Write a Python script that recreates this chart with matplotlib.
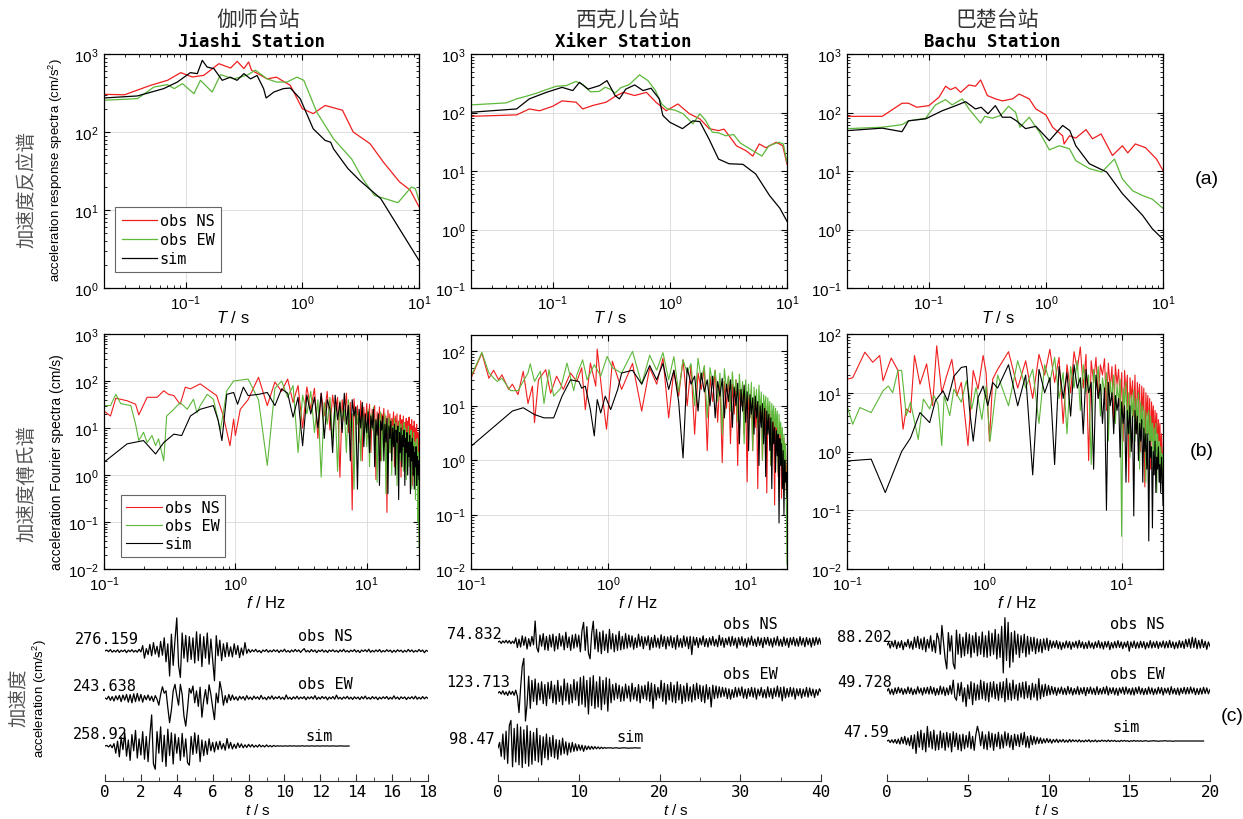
import numpy as np
import matplotlib
matplotlib.use("Agg")
import matplotlib.pyplot as plt
from matplotlib.ticker import MultipleLocator
import matplotlib.transforms as mtransforms

plt.rcParams['font.family'] = ['Liberation Sans', 'DejaVu Sans']
plt.rcParams['mathtext.fontset'] = 'custom'
plt.rcParams['mathtext.rm'] = 'Liberation Sans'
plt.rcParams['mathtext.it'] = 'Liberation Sans:italic'

# ---------------- (a) acceleration response spectra ----------------
JS_T_NS = [0.02,0.03,0.05,0.07,0.091,0.114,0.143,0.193,0.243,0.277,0.316,0.347,0.367,0.5,0.6,0.79,1.0,1.24,1.57,2.21,2.73,3.8,4.96,6.8,8.4,10]
JS_SA_NS = [304,300,396,460,577,507,532,751,661,805,650,790,620,480,505,396,199,172,219,190,100,71,41,23,18,11]
JS_T_EW = [0.02,0.0387,0.0536,0.0697,0.08,0.094,0.118,0.134,0.169,0.199,0.259,0.337,0.397,0.5,0.6,0.74,0.9,1.03,1.33,1.85,2.65,3.3,4.15,5.7,6.6,8.6,9.3,10]
JS_SA_EW = [255,268,377,405,360,417,310,460,325,543,480,535,620,480,437,437,505,460,180,82,45,25,15.4,13.3,12.4,19.7,18.8,13.3]
JS_T_SIM = [0.02,0.0387,0.065,0.085,0.11,0.126,0.139,0.153,0.175,0.206,0.242,0.276,0.316,0.36,0.41,0.466,0.49,0.57,0.69,0.79,0.96,1.24,1.57,1.75,1.85,2.46,3.1,4.7,10]
JS_SA_SIM = [273,290,360,437,577,560,830,680,648,460,505,460,560,480,530,360,273,325,360,366,267,110,78,74,61,34,24,14,2.26]

XK_T_NS = [0.02,0.049,0.063,0.077,0.1,0.12,0.158,0.18,0.22,0.285,0.35,0.4,0.5,0.63,0.76,0.93,1.17,1.47,1.8,2.16,2.6,2.9,3.2,3.7,4.5,5.1,5.8,6.6,8.1,9.2,10]
XK_SA_NS = [86,91,115,107,128,158,150,115,132,150,195,221,195,221,150,107,140,95,78,53,49,52,40,27,22,18,29,25,31,27,13]
XK_T_EW = [0.02,0.04,0.049,0.059,0.072,0.088,0.107,0.13,0.158,0.18,0.21,0.25,0.28,0.31,0.34,0.38,0.45,0.55,0.65,0.75,0.85,0.95,1.1,1.3,1.57,1.8,2.0,2.3,2.6,3.0,3.5,4.0,4.8,6.1,7.0,8.5,9.3,10]
XK_SA_EW = [135,146,171,189,213,246,281,288,340,300,225,230,270,250,215,265,300,440,350,240,140,115,110,95,64,95,75,46,45,40,42,30,24,18,27,31,29,14]
XK_T_SIM = [0.02,0.049,0.063,0.088,0.12,0.148,0.169,0.2,0.25,0.29,0.34,0.37,0.42,0.5,0.59,0.69,0.81,0.87,1.0,1.28,1.57,1.8,2.16,2.6,3.2,4.2,5.4,7.1,8.7,10]
XK_SA_SIM = [101,115,171,221,269,237,328,251,288,351,195,171,251,296,237,260,171,89,68,53,72,70,35,16,13.3,13,8.9,3.8,2.3,1.38]

BC_T_NS = [0.02,0.04,0.059,0.067,0.079,0.1,0.122,0.139,0.153,0.169,0.187,0.22,0.25,0.277,0.316,0.37,0.424,0.52,0.59,0.72,0.82,1.0,1.14,1.39,1.43,1.59,1.8,2.2,2.5,2.96,3.7,4.5,5.0,5.8,7.1,8.8,10]
BC_SA_NS = [86,86,144,144,123,131,182,281,246,269,221,296,281,360,195,171,158,171,207,171,115,91,56,40,29,40,36.5,51,35.5,43,18.4,27,20.4,29,25,16,10.2]
BC_T_EW = [0.02,0.04,0.059,0.067,0.094,0.114,0.139,0.158,0.193,0.22,0.277,0.3,0.35,0.41,0.48,0.55,0.6,0.72,0.88,1.07,1.3,1.59,1.8,2.35,3.0,3.85,4.5,5.5,6.7,8.1,10]
BC_SA_EW = [53,56,62,72,80,135,166,135,171,115,66,86,80,89,128,101,56,83,46,23,27,24,15,11,9.6,16,7.3,4.6,3.8,3.3,2.3]
BC_T_SIM = [0.02,0.04,0.059,0.067,0.094,0.13,0.17,0.206,0.25,0.28,0.32,0.37,0.424,0.5,0.56,0.67,0.82,1.07,1.39,1.6,1.8,2.35,3.3,4.5,6.7,8.1,10]
BC_SA_SIM = [49,54,47,72,78,107,131,153,115,123,95,131,83,83,72,53,58,33,60,49,27,13.3,9.6,4.1,1.74,1.03,0.68]

# ---------------- (b) Fourier spectra ----------------
# low-frequency part: explicit (f, A); high-frequency part: amplitudes on the FFT grid from 1.25 Hz every 0.25 Hz
F_HI_START = 1.25
F_HI_STEP = 0.25

JS_F_NS_LO = [0.1,0.112,0.123,0.15,0.174,0.184,0.213,0.254,0.285,0.31,0.34,0.38,0.416,0.455,0.54,0.64,0.72,0.81,0.91,0.97,1.0,1.09]
JS_A_NS_LO = [23,18,43,38,32,19,45,45,62,52,49,32,74,68,87,62,49,18,4.2,15.5,6.9,25]
JS_A_NS_HI = [40,120,30,95,60,110,35,80,10,75,
              25,70,6,55,18,60,9,50,20,45,
              0.9,40,14,55,8,35,0.18,42,12,30,
              5,38,2,28,10,33,6,32,3,25,
              12,30,0.8,22,8,28,2,20,14,26,
              4,18,0.16,24,9,20,3,16,11,22,
              1.5,18,7,20,3,14,10,19,0.9,15,
              6,18,2.5,13,8,16,1.2,14,5,17,
              2,12,7,15,0.6,11,4,14,1.5,10,
              6,12,0.9,8,3,5]
JS_F_EW_LO = [0.1,0.112,0.123,0.134,0.16,0.174,0.184,0.2,0.213,0.232,0.247,0.26,0.285,0.3,0.34,0.38,0.43,0.48,0.51,0.54,0.61,0.68,0.77,0.86,0.97]
JS_A_EW_LO = [30,30,52,33,30,12,5.4,8.1,4.9,6.9,4.2,5.9,2.0,18,25,35,25,41,21,30,52,41,8.9,62,100]
JS_A_EW_HI = [110,40,1.6,70,100,45,80,3,50,20,
              60,8,40,0.9,35,12,45,6,30,1.2,
              38,15,25,3,40,10,20,0.5,28,12,
              22,2,30,8,18,4,25,1.5,20,9,
              28,3,15,0.7,18,10,22,2,14,6,
              20,0.4,12,8,17,3,15,1,11,7,
              16,2.5,13,0.6,10,6,14,2,12,4,
              9,1.2,13,5,10,0.8,8,3,11,1.5,
              7,4,9,0.5,6,2,8,1,5,0.3,
              4,2,6,0.1,3,0.03]
JS_F_SIM_LO = [0.1,0.15,0.2,0.247,0.285,0.34,0.39,0.455,0.54,0.68,0.74,0.79,0.86,0.97,1.04,1.15]
JS_A_SIM_LO = [1.87,4.6,5.4,2.8,4.9,7.4,6.9,18,25,30,14.5,5.4,52,57,32,74]
JS_A_SIM_HI = [49,52,57,30,68,55,17,45,4.2,50,
               20,45,10,55,6,40,25,3,50,15,
               35,8,55,12,30,2,40,18,28,0.5,
               25,10,35,4,20,8,22,3,18,10,
               25,1.5,15,7,20,0.6,14,9,18,2,
               12,5,16,0.4,11,6,14,2,10,4,
               12,1,9,5,11,0.3,8,3,10,1.5,
               7,4,9,0.6,6,3,8,1,5,2.5,
               7,0.4,5,2,6,1,4,0.5,3,1.5,
               4,0.6,2.5,1,2,0.8]

XK_F_NS_LO = [0.1,0.12,0.135,0.146,0.159,0.168,0.188,0.2,0.22,0.24,0.26,0.28,0.29,0.31,0.35,0.38,0.42,0.47,0.53,0.59,0.64,0.68,0.74,0.81,0.83,0.9,0.97,1.07]
XK_A_NS_LO = [32,93,32,45,30,37,20,25,16,43,11,23,4.9,30,46,17,35,20,40,28,50,8.5,61,23,110,17,3.7,66]
XK_A_NS_HI = [20,60,8,50,25,75,6,45,15,70,
              10,55,3,40,20,50,1.5,35,12,45,
              5,30,0.9,28,9,35,2,25,7,30,
              0.8,20,10,24,3,18,0.4,16,6,20,
              1.5,14,4,12,0.3,11,5,13,1,9,
              3,10,0.25,7,4,8,0.8,6,2,7,
              0.15,5,2.5,4,0.5,3.5,1.2,4,0.2,2,
              0.9,2.5,0.3,1.5,0.5,0.8]
XK_F_EW_LO = [0.1,0.12,0.135,0.155,0.168,0.194,0.22,0.26,0.27,0.29,0.32,0.34,0.37,0.4,0.45,0.5,0.56,0.59,0.65,0.7,0.79,0.88,0.98,1.07]
XK_A_EW_LO = [35,96,40,28,32,19,19,40,59,28,43,11,46,15,21,61,19,37,70,30,57,35,81,50]
XK_A_EW_HI = [40,100,25,85,45,95,30,80,18,70,
              40,60,10,75,30,55,6,50,25,45,
              12,40,3,48,20,35,8,42,15,30,
              5,38,12,28,2,30,10,25,6,27,
              1.5,22,9,20,4,24,7,18,1,16,
              8,15,3,14,6,12,0.8,11,5,10,
              2.5,9,4,8,0.6,7,3,5,1.5,4,
              0.5,3,1,2,0.3,0.012]
XK_F_SIM_LO = [0.1,0.2,0.24,0.29,0.34,0.4,0.46,0.53,0.61,0.64,0.68,0.74,0.79,0.83,0.88,0.95,1.04,1.17]
XK_A_SIM_LO = [1.8,8,9.2,6.9,6.0,6.0,15,30,28,21,23,8.5,2.8,13,7.4,15,8.5,20]
XK_A_SIM_HI = [40,45,25,55,30,60,20,45,12,1.1,
               50,25,35,8,40,18,30,10,35,6,
               28,15,32,6,25,12,30,4,22,10,
               26,2,20,8,24,5,18,1.5,16,7,
               14,3,15,6,12,0.8,10,4,11,2,
               9,0.5,8,3,7,1.5,6,0.3,5,2,
               4,0.6,3.5,1.2,3,0.07,2.5,0.8,2,0.3,
               1.5,0.1,1,0.4,0.6,0.2]

BC_F_NS_LO = [0.1,0.11,0.135,0.154,0.173,0.183,0.21,0.235,0.256,0.27,0.29,0.31,0.34,0.38,0.4,0.42,0.45,0.49,0.53,0.58,0.63,0.68,0.76,0.83,0.9,0.98,1.03,1.09,1.15]
BC_A_NS_LO = [17,18,49,33,43,16,39,24,2.4,5.3,4.6,43,14,31,13,6.0,63,10,19,37,8.9,15,1.26,24,11.5,43,22,1.5,17]
BC_A_NS_HI = [25,50,12,35,8,45,20,55,15,40,
              3,30,10,50,25,60,12,45,0.7,35,
              15,40,8,30,20,38,5,32,12,28,
              3,30,14,25,6,22,1.5,24,10,20,
              0.3,18,8,16,4,20,2,15,7,14,
              1,13,5,12,0.25,10,4,9,2,8,
              0.5,7,3,6,1,5,2,4.5,0.8,3.5,
              1.5,3,0.6,2,1,0.9]
BC_F_EW_LO = [0.1,0.11,0.124,0.15,0.183,0.2,0.215,0.235,0.25,0.27,0.29,0.33,0.36,0.4,0.43,0.46,0.49,0.51,0.56,0.6,0.68,0.74,0.81,0.87,0.96,1.03,1.1]
BC_A_EW_LO = [6.0,2.9,5.6,4.6,10.8,13,10,24,24,4.1,6.9,1.6,7.8,5.3,8.9,6.5,1.26,8.9,4.1,11.5,6.9,16,5.3,12.3,3.5,13,1.5]
BC_A_EW_HI = [20,6,35,12,25,3,30,15,40,8,
              22,2,28,12,35,5,30,10,20,0.6,
              25,12,28,4,18,10,22,1.5,16,8,
              20,3,14,7,17,0.036,12,6,15,2,
              10,0.8,9,4,11,1.5,8,3,10,0.5,
              7,2.5,6,1,5,0.3,4.5,2,5,0.8,
              4,1.5,3,0.4,2.5,1,3,0.2,2,0.7,
              1.5,0.3,1.2,0.5,0.9,0.2]
BC_F_SIM_LO = [0.1,0.15,0.19,0.25,0.29,0.34,0.4,0.44,0.5,0.54,0.58,0.6,0.68,0.74,0.78,0.83,0.9,0.98,1.06,1.15]
BC_A_SIM_LO = [0.69,0.74,0.2,1.0,1.7,4.6,3.1,7.3,10.8,7.3,14,19,27,28,5.3,1.5,8.3,13,6.0,15]
BC_A_SIM_HI = [12,30,6,20,0.4,25,10,18,0.6,28,
               8,22,4,30,12,18,2,25,10,15,
               0.5,20,8,14,3,12,0.1,15,6,10,
               2,9,5,8,0.8,7,3,6,0.3,5,
               2,6,1,4,0.08,5,2,4,0.7,3,
               1.5,3.5,0.3,2.5,1,2,0.5,2,0.03,1.5,
               0.8,1.2,0.05,1,0.4,1.5,0.2,0.8,0.5,1.2,
               0.3,0.6,0.2,0.8,0.4,0.12]

# ---------------- (c) acceleration time histories (cm/s^2) ----------------
JS_DT = 0.1
JS_ACC_NS = [0,8,-6,12,-10,5,-8,10,-12,6,-5,9,-14,7,-6,11,-9,5,-10,14,-8,
             45,-60,20,-30,55,-40,70,-25,40,-50,
             80,-35,110,-90,60,-208,140,-120,90,276,
             -120,-220,150,-60,130,-90,120,-70,110,-100,
             160,-80,140,-130,120,-60,150,-110,100,-70,
             -248,128,-40,90,-80,60,-50,70,-45,35,
             -50,60,-30,45,-55,25,-35,70,-20,15,
             -12,10,-6,14,-9,5,-15,8,-4,12,-10,6,-8,11,-5,9,-13,7,-6,15,
             -9,4,-11,8,-7,13,-5,9,-12,6,20,-8,5,-10,12,-6,8,-14,7,-5,
             11,-9,6,-12,8,-4,10,-7,5,-11,9,-6,14,-8,4,-10,7,-5,12,-9,
             6,-13,8,-4,10,-7,15,-11,5,-8,9,-6,12,-10,4,-7,11,-5,8,-12,
             6,-9,10,-4,7,-11,5,-8,13,-6,9,-10,4,-7,12,-5,8,-14,6,-3]
JS_ACC_EW = [0,-10,15,-20,12,-25,18,-15,22,-30,25,-18,30,-35,28,-40,35,-30,38,-25,30,
             -35,20,-15,25,-20,15,-30,20,-10,-60,
             30,94,40,60,-80,-205,-100,60,114,20,
             -60,114,30,-150,-234,-90,80,40,100,-40,
             60,-70,90,-160,-20,70,-50,110,30,-80,
             -180,40,-40,137,60,-60,20,-40,30,-20,
             25,-15,10,-20,15,-8,12,-18,20,-10,8,-14,16,-6,10,-12,22,-9,6,-15,
             12,-8,18,-11,9,-5,14,-10,7,-13,25,-9,6,-12,10,-7,15,-10,8,-5,
             12,-14,9,-6,11,-8,20,-12,7,-9,13,-5,10,-15,8,-7,12,-10,24,-8,
             6,-11,9,-5,14,-9,7,-12,10,-6,8,-13,11,-7,16,-9,5,-10,12,-6,
             9,-14,7,-8,10,-5,13,-11,6,-9,18,-7,8,-12,10,-5,9,-13,7,-6,
             11,-8,15,-10,6,-9,12,-7,8,-4]
JS_ACC_SIM = [0,5,-8,10,-15,20,
              -60,40,-90,70,-30,110,-85,50,-120,95,-40,130,-100,60,-75,120,-110,80,-130,90,
              259,-150,-194,120,-60,160,-130,90,-170,140,-80,110,-150,100,-60,
              70,-120,105,-90,60,-140,-160,80,-70,110,-60,90,-130,50,-80,40,-70,60,-40,30,
              -50,35,-30,40,-25,20,-35,62,-20,30,-25,15,-20,25,-12,18,-15,10,-12,14,
              -8,12,-10,6,-9,11,-7,5,-8,9,-6,4,-7,5,-3,
              2,-1,1,-2,1,0,-1,2,-1,1,0,-1,1,-1,2,-1,0,1,-1,1,
              0,-1,1,0,-1,1,0,0,1,-1,0,1,0,-1,0,1,0,0,-1,0,0]

XK_DT = 0.2
XK_ACC_NS = [0,3,-5,4,-3,6,-4,5,-6,3,-5,
             15,-20,10,-18,22,-12,18,-25,12,-15,20,-10,
             75,-20,-36,25,-15,30,-28,20,
             -30,25,-18,28,-32,20,-25,30,-15,22,-28,35,-20,18,-30,25,-22,28,-18,24,
             -35,40,70,-30,55,-40,-60,30,74,-25,45,-35,
             35,-42,40,-30,28,-38,45,-25,30,-35,25,-30,38,-28,20,-25,30,-22,
             25,-18,22,-26,15,-20,28,-15,20,-24,18,-12,22,-28,16,-20,24,-18,14,-22,
             26,-16,20,-25,18,-14,22,-20,16,-26,24,-18,12,-20,22,-15,18,-24,20,-45,
             18,-12,16,-20,14,-10,22,-16,12,-18,15,-11,20,-14,10,-17,24,-12,15,-19,
             13,-10,18,-15,20,-12,14,-22,16,-11,19,-14,12,-18,15,-10,21,-13,11,-16,
             18,-12,14,-20,16,-9,17,-13,12,-18,15,-11,20,-14,10,-16,18,-12,13,-19,
             15,-10,17,-14,12,-15,19,-11,14,-17,16,-10,13,-18,15,-12,17,-9,14,-8]
XK_ACC_EW = [0,5,-4,8,-6,4,-9,7,-5,6,-8,10,-12,
             -70,20,95,123.7,-100,-40,60,-55,
             45,-30,50,-42,35,-25,40,-38,30,-45,38,-20,42,-35,28,-40,45,-30,25,-42,
             50,-28,35,-40,30,-35,48,-25,40,-45,
             55,-40,60,-50,45,-75,55,-45,62,-55,40,-50,58,-60,45,-40,55,-65,50,-35,
             30,-25,35,-20,28,-30,22,-28,32,-18,25,-30,35,-22,20,-28,30,-35,25,-20,
             28,-25,40,-30,35,-55,30,-25,20,-18,
             45,-30,35,-40,30,-25,38,-32,28,-35,40,-25,30,-38,25,-30,35,-28,22,-32,
             30,-25,35,-20,28,-30,25,-35,30,-22,20,-50,28,-20,25,
             -18,22,-15,20,-12,18,-20,15,-22,12,-16,20,-14,18,-10,22,-18,14,-20,16,
             -12,20,-15,18,-22,14,-10,20,-16,12,-18,22,-14,16,-20,18,-12,25,-15,20,
             -28,22,-18,16,-14,20,-12,18,-22,15,-10,16,-18,14,-12,20,-15,18,-10,14,
             -16,12,-8,15,5]
XK_ACC_SIM = [0,20,-30,50,-40,60,-55,80,98.5,-67,70,-50,85,-60,75,-70,65,-55,80,-65,
              60,-58,55,-45,70,-50,45,-60,40,-35,50,-42,38,-30,45,-35,30,-40,28,-25,
              35,-20,22,-25,18,-15,20,-12,15,-10,12,-8,10,-12,8,-6,7,-5,6,-4,
              5,-3,4,-3,3,-2,2,-1,1,0,1,-1,0,1,0,-1,0,0,1,0,
              0,-1,0,0,0,1,0,0,0]

BC_DT = 0.1
BC_ACC_NS = [0,8,-10,12,-6,15,-12,10,-8,14,-15,9,-5,18,-10,12,-14,25,-8,28,-12,
             20,-15,25,-22,18,-10,30,-20,15,-25,
             38,20,-30,63,10,-45,-77,40,-20,30,
             -60,-77,48,-30,35,-40,25,-35,40,-28,
             35,-40,30,-25,40,-35,28,-30,42,-38,
             30,-40,45,-35,38,-30,50,-45,35,-40,
             60,-90,88,-50,73,-72,40,-55,45,-30,
             35,-40,30,-25,35,-38,28,-30,25,-20,
             25,-28,20,-22,18,-25,20,-15,22,-18,
             15,-10,12,-8,14,-12,10,-15,8,-10,13,-9,11,-14,9,-7,12,-10,15,-8,
             10,-12,8,-11,13,-9,7,-12,10,-8,14,-10,9,-13,11,-7,12,-15,8,-10,
             11,-9,14,-8,10,-12,9,-7,12,-20,10,-8,13,-11,9,-10,12,-8,11,-13,
             8,-9,14,-10,10,-8,12,-11,9,-7,13,-10,11,-9,15,-8,10,-12,9,-10,
             14,-8,12,-11,18,-6,20,-10,25,-8,22,-12,15,-10,18,-8,12,-14,10,-5]
BC_ACC_EW = [0,8,-10,6,-12,10,-8,12,-6,9,-11,7,-9,13,-8,10,-12,6,-10,14,
             -7,9,-13,11,-8,12,-10,15,-9,11,-14,8,-12,16,-10,13,-15,10,-12,18,-10,
             35,-20,-30,25,-15,28,-35,10,-49.7,20,
             -25,30,-44,25,-30,20,-28,35,-25,30,
             -30,25,-35,28,-20,30,-25,22,-30,28,
             -22,30,-35,40,-28,25,-30,35,-25,20,
             -30,25,-20,28,-25,30,-22,18,-28,25,-20,22,-30,40,-25,20,-18,22,-15,18,
             -12,15,-10,12,-14,10,-8,13,-11,9,-12,15,-9,11,-13,8,-10,14,-12,10,
             -9,12,-15,11,-8,13,-10,9,-12,14,-11,8,-10,12,-9,15,-13,10,-8,11,
             -12,9,-14,10,-7,12,-11,13,-9,8,-12,10,-13,11,-8,14,-10,9,-12,8,
             -11,13,-9,10,-12,7,-10,12,-8,11,-13,9,-7,10,-12,14,-9,8,-11,10,
             -13,9,-8,12,-10,11,-9,13,-7,10,-12,8,-11,9,-10,12,-8,10,-9,5]
BC_ACC_SIM = [0,3,-5,4,-6,5,-8,6,-10,12,-8,15,-12,10,-15,18,
              -25,20,-40,30,-20,35,-28,25,-35,47,-20,30,-25,35,-30,20,-28,32,-22,25,
              -30,28,-20,24,-35,30,-18,25,-28,20,-32,22,-25,18,
              -20,30,-25,15,-30,20,47.6,25,-15,30,
              -25,20,-28,30,-20,25,-30,22,-18,28,-25,20,-22,30,-15,25,-20,18,-28,22,
              -15,20,-18,25,-12,28,-20,15,-22,18,-12,15,-10,12,-8,
              10,-8,7,-6,8,-5,6,-7,5,-4,6,-5,4,-3,5,-4,3,-4,5,-3,4,-2,3,-3,
              4,-3,2,-3,3,-2,4,-3,2,-2,3,-3,2,-2,3,-1,2,-2,3,-2,
              2,-1,2,-2,1,-2,2,-1,2,-1,1,-2,1,-1,2,-1,1,-1,1,-1,
              0,1,0,-1,0,0,1,0,0,-1,0,0,0,1,0,0,0,0,-1,0,
              0,0,0,0,0,0,0,0,0,0,0,0,0,0,0,0,0,0]

PEAK_LABELS = [["276.159", "243.638", "258.92"],
               ["74.832", "123.713", "98.47"],
               ["88.202", "49.728", "47.59"]]
TRACE_NAMES = ["obs NS", "obs EW", "sim"]
STATION_CN = ["伽师台站", "西克儿台站", "巴楚台站"]
STATION_EN = ["Jiashi Station", "Xiker Station", "Bachu Station"]
T_MAX = [18, 40, 20]
T_MAJOR = [2, 10, 5]

# ---------------- layout ----------------
W, H = 1243, 820
RED, GREEN, BLACK = '#f01e1e', '#5db83a', '#000000'
CJK = ['Noto Sans CJK SC', 'DejaVu Sans']
MONO = ['DejaVu Sans Mono']

fig = plt.figure(figsize=(W / 100, H / 100), dpi=100)


def box(x0, y0, x1, y1):
    return [x0 / W, 1 - y1 / H, (x1 - x0) / W, (y1 - y0) / H]


top_px = [(104, 55, 419, 289), (471, 55, 787, 289), (847, 55, 1163, 289)]
mid_px = [(104, 335, 419, 570), (471, 336, 787, 570), (847, 335, 1163, 570)]
bot_px = [(105, 610, 428, 782), (498, 610, 821, 782), (887, 610, 1210, 782)]
T_LABEL_X = [233, 610, 998]
F_LABEL_X = [266, 638, 1017]
TT_LABEL_X = [258, 676, 1047]


def style_log(ax):
    ax.grid(True, which='major', color='#d9d9d9', lw=0.6)
    ax.tick_params(which='both', direction='in', top=True, right=True, labelsize=11, pad=4)
    ax.tick_params(which='major', length=4)
    ax.tick_params(which='minor', length=2)
    for s in ax.spines.values():
        s.set_linewidth(0.9)


# (a) response spectra
resp = [
    [(JS_T_NS, JS_SA_NS), (JS_T_EW, JS_SA_EW), (JS_T_SIM, JS_SA_SIM)],
    [(XK_T_NS, XK_SA_NS), (XK_T_EW, XK_SA_EW), (XK_T_SIM, XK_SA_SIM)],
    [(BC_T_NS, BC_SA_NS), (BC_T_EW, BC_SA_EW), (BC_T_SIM, BC_SA_SIM)],
]
ylims_a = [(1, 1000), (0.1, 1000), (0.1, 1000)]
for i in range(3):
    ax = fig.add_axes(box(*top_px[i]))
    for (T, S), c, nm in zip(resp[i], [RED, GREEN, BLACK], TRACE_NAMES):
        ax.loglog(T, S, color=c, lw=0.9, label=nm)
    ax.set_xlim(0.02, 10)
    ax.set_ylim(*ylims_a[i])
    style_log(ax)
    if i == 0:
        leg = ax.legend(loc='lower left', bbox_to_anchor=(0.012, 0.035), frameon=True, fancybox=False,
                        edgecolor='#666666', framealpha=1, handlelength=2.3, handletextpad=0.2,
                        labelspacing=0.25, borderpad=0.4, prop={'family': MONO, 'size': 11})
        leg.get_frame().set_linewidth(0.8)
    fig.text(T_LABEL_X[i] / W, 1 - 318 / H, r'$T$ / s', ha='center', va='center', fontsize=12)

# (b) Fourier spectra
four = [
    [(JS_F_NS_LO, JS_A_NS_LO, JS_A_NS_HI), (JS_F_EW_LO, JS_A_EW_LO, JS_A_EW_HI), (JS_F_SIM_LO, JS_A_SIM_LO, JS_A_SIM_HI)],
    [(XK_F_NS_LO, XK_A_NS_LO, XK_A_NS_HI), (XK_F_EW_LO, XK_A_EW_LO, XK_A_EW_HI), (XK_F_SIM_LO, XK_A_SIM_LO, XK_A_SIM_HI)],
    [(BC_F_NS_LO, BC_A_NS_LO, BC_A_NS_HI), (BC_F_EW_LO, BC_A_EW_LO, BC_A_EW_HI), (BC_F_SIM_LO, BC_A_SIM_LO, BC_A_SIM_HI)],
]
xlims_b = [(0.1, 25), (0.1, 20), (0.1, 20)]
ylims_b = [(0.01, 1000), (0.01, 200), (0.01, 100)]
for i in range(3):
    ax = fig.add_axes(box(*mid_px[i]))
    for (flo, alo, ahi), c, nm in zip(four[i], [RED, GREEN, BLACK], TRACE_NAMES):
        f = np.concatenate([flo, F_HI_START + F_HI_STEP * np.arange(len(ahi))])
        a = np.concatenate([alo, ahi])
        ax.loglog(f, a, color=c, lw=0.8, label=nm)
    ax.set_xlim(*xlims_b[i])
    ax.set_ylim(*ylims_b[i])
    style_log(ax)
    if i == 0:
        leg = ax.legend(loc='lower left', bbox_to_anchor=(0.03, 0.02), frameon=True, fancybox=False,
                        edgecolor='#666666', framealpha=1, handlelength=2.3, handletextpad=0.2,
                        labelspacing=0.2, borderpad=0.35, prop={'family': MONO, 'size': 11})
        leg.get_frame().set_linewidth(0.8)
    fig.text(F_LABEL_X[i] / W, 1 - 603 / H, r'$f$ / Hz', ha='center', va='center', fontsize=12)

# (c) time histories
waves = [
    (JS_DT, [JS_ACC_NS, JS_ACC_EW, JS_ACC_SIM]),
    (XK_DT, [XK_ACC_NS, XK_ACC_EW, XK_ACC_SIM]),
    (BC_DT, [BC_ACC_NS, BC_ACC_EW, BC_ACC_SIM]),
]
baselines = [[130, 83, 35], [139, 88, 33], [136, 90, 40]]   # px above the time axis
amp_scale = [0.12, 0.28, 0.31]                               # px per cm/s^2
peak_x = [[-0.093, -0.099, -0.099], [-0.158, -0.161, -0.152], [-0.155, -0.155, -0.136]]
peak_y = [[640, 687, 735], [635, 683, 740], [638, 683, 733]]
name_x = [[0.598, 0.598, 0.62], [0.697, 0.697, 0.368], [0.69, 0.69, 0.697]]
name_y = [[637, 685, 737], [625, 675, 738], [625, 675, 728]]
for i in range(3):
    ax = fig.add_axes(box(*bot_px[i]))
    dt, traces = waves[i]
    for k, acc in enumerate(traces):
        acc = np.asarray(acc, float)
        t = dt * np.arange(len(acc))
        ax.plot(t, baselines[i][k] + amp_scale[i] * acc, color='k', lw=0.9)
    ax.set_xlim(0, T_MAX[i])
    ax.set_ylim(0, 172)
    for s in ['top', 'left', 'right']:
        ax.spines[s].set_visible(False)
    ax.spines['bottom'].set_color('#333333')
    ax.set_yticks([])
    ticks = np.arange(0, T_MAX[i] + 1, T_MAJOR[i])
    ax.set_xticks(ticks)
    ax.set_xticklabels([str(v) for v in ticks], fontfamily=MONO, fontsize=11.5)
    ax.xaxis.set_minor_locator(MultipleLocator(T_MAJOR[i] / 2))
    ax.tick_params(which='both', direction='in', colors='#333333', labelcolor='k', pad=2)
    ax.tick_params(which='major', length=5)
    ax.tick_params(which='minor', length=3)
    tr = mtransforms.blended_transform_factory(ax.transAxes, ax.transData)
    for k in range(3):
        ax.text(peak_x[i][k], 782 - peak_y[i][k], PEAK_LABELS[i][k], transform=tr, ha='left', va='center',
                fontfamily=MONO, fontsize=11, clip_on=False)
        ax.text(name_x[i][k], 782 - name_y[i][k], TRACE_NAMES[k], transform=tr, ha='left', va='center',
                fontfamily=MONO, fontsize=11, clip_on=False)
    fig.text(TT_LABEL_X[i] / W, 1 - 811 / H, r'$t$ / s', ha='center', va='center', fontsize=11)

# titles
title_cn_x = [258, 628, 997]
title_en_x = [252, 623, 992]
for i in range(3):
    fig.text(title_cn_x[i] / W, 1 - 20 / H, STATION_CN[i], ha='center', va='center',
             fontfamily=CJK, fontsize=15, color='#333333')
    fig.text(title_en_x[i] / W, 1 - 42 / H, STATION_EN[i], ha='center', va='center',
             fontfamily=MONO, fontsize=12.5, fontweight='bold')

# row labels
fig.text(27 / W, 1 - 190 / H, '加速度反应谱', rotation=90, ha='center', va='center',
         fontfamily=CJK, fontsize=14, color='#555555')
fig.text(56 / W, 1 - 170 / H, r'acceleration response spectra (cm/s$^2$)', rotation=90,
         ha='center', va='center', fontsize=9.5)
fig.text(27 / W, 1 - 484 / H, '加速度傅氏谱', rotation=90, ha='center', va='center',
         fontfamily=CJK, fontsize=14, color='#555555')
fig.text(57 / W, 1 - 462 / H, 'acceleration Fourier spectra (cm/s)', rotation=90,
         ha='center', va='center', fontsize=10)
fig.text(18 / W, 1 - 698 / H, '加速度', rotation=90, ha='center', va='center',
         fontfamily=CJK, fontsize=14, color='#555555')
fig.text(40 / W, 1 - 699 / H, r'acceleration (cm/s$^2$)', rotation=90,
         ha='center', va='center', fontsize=9.5)

# panel tags
fig.text(1207 / W, 1 - 180 / H, '(a)', ha='center', va='center', fontsize=14)
fig.text(1202 / W, 1 - 451 / H, '(b)', ha='center', va='center', fontsize=14)
fig.text(1232 / W, 1 - 717 / H, '(c)', ha='center', va='center', fontsize=14)

fig.savefig('out.png', dpi=100)
